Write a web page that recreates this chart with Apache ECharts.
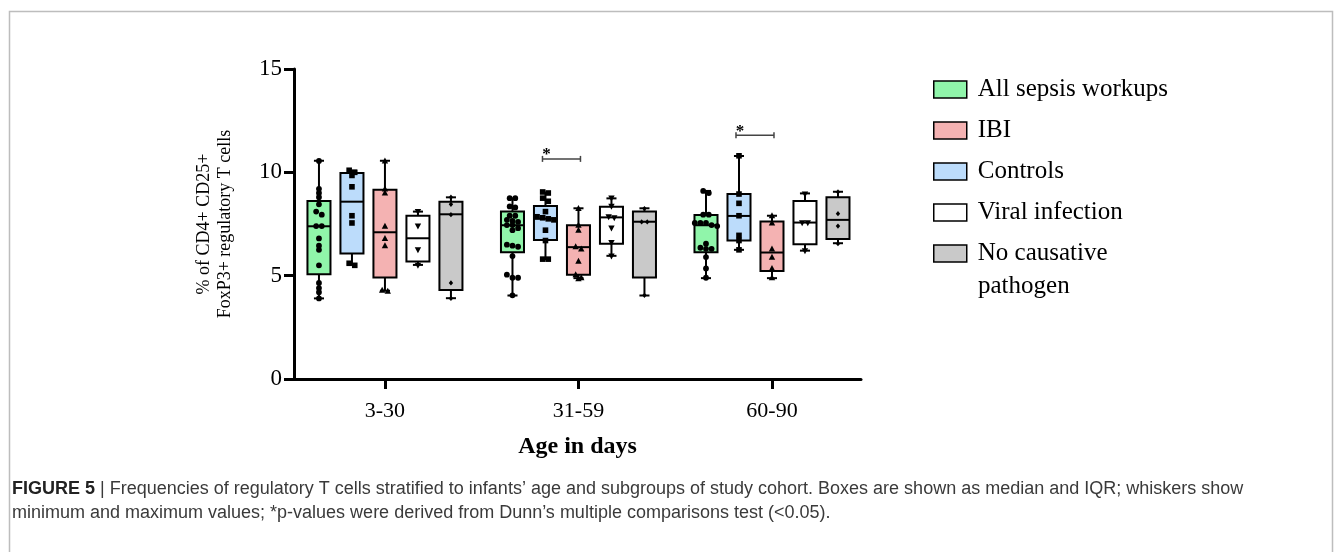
<!DOCTYPE html>
<html><head><meta charset="utf-8">
<script src="https://cdn.jsdelivr.net/npm/echarts@6/dist/echarts.min.js"></script>
<style>html,body{margin:0;padding:0;background:#fff}#c{width:1342px;height:552px}</style>
</head><body><div id="c"></div>
<script>
// ---------- data ----------
const ageGroups = ['3-30', '31-59', '60-90'];
const subgroupNames = ['All sepsis workups', 'Controls', 'IBI', 'Viral infection', 'No causative pathogen'];
const legendOrder = ['All sepsis workups', 'IBI', 'Controls', 'Viral infection', 'No causative pathogen'];
const yTicks = [0, 5, 10, 15];

// box stats per age group: [min, q1, median, q3, max]
const sepsisBox     = [[3.9, 5.07, 7.39, 8.61, 10.56], [4.04, 6.13, 7.44, 8.10, 8.74], [4.88, 6.13, 7.44, 7.94, 9.1]];
const controlsBox   = [[5.55, 6.07, 8.58, 9.97, 10.08], [5.8, 6.73, 7.76, 8.37, 9.02], [6.25, 6.7, 7.89, 8.95, 10.79]];
const ibiBox        = [[4.27, 4.91, 7.10, 9.16, 10.56], [4.88, 5.04, 6.38, 7.44, 8.26], [4.88, 5.23, 6.12, 7.62, 7.9]];
const viralBox      = [[5.52, 5.68, 6.81, 7.9, 8.1], [5.96, 6.54, 7.82, 8.34, 8.74], [6.21, 6.52, 7.57, 8.61, 8.98]];
const noPathogenBox = [[3.91, 4.31, 7.97, 8.58, 8.79], [4.04, 4.91, 7.61, 8.10, 8.26], [6.57, 6.78, 7.7, 8.79, 9.06]];

// individual values per age group
const sepsisPoints = [
  [10.55, 9.2, 9.0, 8.8, 8.45, 8.1, 7.95, 7.4, 7.4, 6.8, 6.45, 6.25, 5.5, 4.65, 4.4, 4.2, 3.9],
  [8.75, 8.75, 8.35, 8.3, 7.9, 7.9, 7.7, 7.65, 7.6, 7.45, 7.45, 7.3, 7.2, 6.5, 6.45, 6.4, 5.95, 5.05, 4.9, 4.9, 4.05],
  [9.1, 9.0, 7.95, 7.95, 7.55, 7.55, 7.55, 7.45, 7.4, 6.55, 6.35, 6.3, 6.3, 5.9, 5.35, 4.9]
];
const controlsPoints = [
  [10.1, 10.0, 9.85, 9.3, 7.9, 7.55, 5.6, 5.5],
  [9.05, 9.0, 8.75, 8.6, 8.1, 7.85, 7.8, 7.75, 7.7, 7.2, 6.7, 5.8, 5.8],
  [10.8, 8.95, 8.5, 7.9, 6.95, 6.7, 6.25]
];
const ibiPoints = [
  [10.55, 9.2, 9.0, 7.4, 6.8, 6.45, 4.3, 4.25],
  [8.25, 7.45, 7.2, 6.4, 6.3, 5.7, 5.05, 4.9, 4.85],
  [7.9, 7.55, 6.3, 5.9, 5.35, 4.9]
];
const viralPoints = [
  [8.1, 7.4, 6.25, 5.5],
  [8.75, 8.35, 7.85, 7.8, 7.3, 6.6, 5.95],
  [8.95, 7.55, 7.55, 6.2]
];
const noPathogenPoints = [
  [8.8, 8.45, 7.95, 4.65, 3.9],
  [8.25, 7.6, 7.6, 4.05],
  [9.05, 8.0, 7.4, 6.55]
];

// significance brackets: age group index, between subgroup slots, height
const sigGroups = [1, 2];
const sigFrom = [1, 1];
const sigTo = [2, 2];
const sigHeights = [10.65, 11.8];

// ---------- styling / layout ----------
const colors = ['#90f5aa', '#bcdcfb', '#f4b2b2', '#ffffff', '#c9c9c9'];
const markers = ['circle', 'square', 'triangle', 'downTriangle', 'diamond'];
const SLOT = 0.1705;   // axis units between neighbouring boxes
const BOXW = 0.119;    // box width in axis units
const CAPW = 0.052;    // whisker cap width
const SERIF = '"Liberation Serif", "Times New Roman", serif';
const SANS = '"Liberation Sans Narrow", "Liberation Sans", Arial, sans-serif';

function markerShape(type, x, y) {
  const st = { fill: '#000' };
  if (type === 'circle') return { type: 'circle', shape: { cx: x, cy: y, r: 2.9 }, style: st };
  if (type === 'square') return { type: 'rect', shape: { x: x - 2.8, y: y - 2.8, width: 5.6, height: 5.6 }, style: st };
  if (type === 'triangle') return { type: 'polygon', shape: { points: [[x, y - 3.4], [x + 3.2, y + 2.6], [x - 3.2, y + 2.6]] }, style: st };
  if (type === 'downTriangle') return { type: 'polygon', shape: { points: [[x, y + 3.4], [x + 3.2, y - 2.6], [x - 3.2, y - 2.6]] }, style: st };
  return { type: 'polygon', shape: { points: [[x, y - 2.6], [x + 2.2, y], [x, y + 2.6], [x - 2.2, y]] }, style: st };
}

// Prism-like row layout of points that share (almost) the same level
function swarm(pys, d) {
  const order = pys.map((y, i) => i).sort((a, b) => pys[a] - pys[b]);
  const xs = new Array(pys.length).fill(0);
  let row = [];
  const flush = () => {
    row.forEach((idx, j) => { xs[idx] = (j - (row.length - 1) / 2) * d; });
    row = [];
  };
  order.forEach(idx => {
    if (row.length && Math.abs(pys[idx] - pys[row[0]]) > 3.5) flush();
    row.push(idx);
  });
  flush();
  return xs;
}

function boxSeries(k, boxes, points) {
  return {
    type: 'custom',
    name: subgroupNames[k],
    itemStyle: { color: colors[k], borderColor: '#000' },
    data: boxes.map((b, i) => [i].concat(b)),
    encode: { x: 0, y: [1, 2, 3, 4, 5] },
    z: 3,
    renderItem(params, api) {
      const g = api.value(0);
      const xv = g + (k - 2) * SLOT;
      const cx = api.coord([xv, 0])[0];
      const py = v => api.coord([xv, v])[1];
      const yMin = py(api.value(1)), yQ1 = py(api.value(2)), yMed = py(api.value(3)),
            yQ3 = py(api.value(4)), yMax = py(api.value(5));
      const w = api.size([BOXW, 0])[0];
      const cw = api.size([CAPW, 0])[0];
      const ln = { stroke: '#000', lineWidth: 2 };
      const children = [
        { type: 'line', shape: { x1: cx, y1: yMax, x2: cx, y2: yQ3 }, style: ln },
        { type: 'line', shape: { x1: cx, y1: yQ1, x2: cx, y2: yMin }, style: ln },
        { type: 'line', shape: { x1: cx - cw / 2, y1: yMax, x2: cx + cw / 2, y2: yMax }, style: ln },
        { type: 'line', shape: { x1: cx - cw / 2, y1: yMin, x2: cx + cw / 2, y2: yMin }, style: ln },
        { type: 'rect', shape: { x: cx - w / 2, y: yQ3, width: w, height: yQ1 - yQ3 },
          style: { fill: colors[k], stroke: '#000', lineWidth: 2 } },
        { type: 'line', shape: { x1: cx - w / 2, y1: yMed, x2: cx + w / 2, y2: yMed }, style: ln }
      ];
      const vals = points[params.dataIndex];
      const pys = vals.map(py);
      const offs = swarm(pys, 5.6);
      pys.forEach((y, i) => children.push(markerShape(markers[k], cx + offs[i], y)));
      return { type: 'group', children };
    }
  };
}

const sigSeries = {
  type: 'custom',
  name: 'sig',
  data: sigGroups.map((g, i) => [g, sigHeights[i], sigFrom[i], sigTo[i]]),
  encode: { x: 0, y: 1 },
  z: 4,
  silent: true,
  renderItem(params, api) {
    const g = api.value(0);
    const p1 = api.coord([g + (api.value(2) - 2) * SLOT, api.value(1)]);
    const p2 = api.coord([g + (api.value(3) - 2) * SLOT, api.value(1)]);
    const xa = p1[0] - 3, xb = p2[0] + 2, y = p1[1];
    const st = { stroke: '#444', lineWidth: 1.5 };
    return { type: 'group', children: [
      { type: 'line', shape: { x1: xa, y1: y, x2: xb, y2: y }, style: st },
      { type: 'line', shape: { x1: xa, y1: y - 3, x2: xa, y2: y + 3 }, style: st },
      { type: 'line', shape: { x1: xb, y1: y - 3, x2: xb, y2: y + 3 }, style: st },
      { type: 'text', style: { text: '*', x: xa + 4, y: y - 4, align: 'center', verticalAlign: 'middle',
        font: 'bold 17px ' + SERIF, fill: '#000' } }
    ] };
  }
};

const chart = echarts.init(document.getElementById('c'), null, { renderer: 'canvas' });
chart.setOption({
  animation: false,
  backgroundColor: '#fff',
  grid: { left: 294, right: 481, top: 69, bottom: 173, containLabel: false },
  xAxis: {
    type: 'value', min: -0.47, max: 2.46,
    splitLine: { show: false },
    axisLine: { onZero: false, lineStyle: { color: '#000', width: 3 } },
    axisTick: { customValues: [0, 1, 2], length: 10, lineStyle: { color: '#000', width: 3 } },
    axisLabel: { customValues: [0, 1, 2], formatter: v => ageGroups[Math.round(v)], margin: 21,
      fontFamily: SERIF, fontSize: 22, color: '#000' },
    name: 'Age in days', nameLocation: 'middle', nameGap: 56,
    nameTextStyle: { fontFamily: SERIF, fontSize: 24, fontWeight: 'bold', color: '#000' }
  },
  yAxis: {
    type: 'value', min: yTicks[0], max: yTicks[yTicks.length - 1], interval: 5,
    splitLine: { show: false },
    axisLine: { show: true, onZero: false, lineStyle: { color: '#000', width: 3 } },
    axisTick: { show: true, length: 10, lineStyle: { color: '#000', width: 3 } },
    axisLabel: { margin: 12, fontFamily: SERIF, fontSize: 23, color: '#000' },
    name: '% of CD4+ CD25+\nFoxP3+ regulatory T cells', nameLocation: 'middle', nameGap: 58,
    nameTextStyle: { fontFamily: SERIF, fontSize: 18, lineHeight: 21, color: '#000' }
  },
  legend: {
    orient: 'vertical', left: 933, top: 77, padding: 0, itemWidth: 33, itemHeight: 17, itemGap: 16,
    icon: 'rect', selectedMode: false,
    data: legendOrder.map(n => ({ name: n, itemStyle: { borderColor: '#000', borderWidth: 1.5 } })),
    formatter: n => n === 'No causative pathogen' ? 'No causative' : n,
    textStyle: { fontFamily: SERIF, fontSize: 25, color: '#000', padding: [0, 0, 0, 6] }
  },
  title: {
    left: 12, top: 477, padding: 0,
    text: '{b|FIGURE 5} | Frequencies of regulatory T cells stratified to infants\u2019 age and subgroups of study cohort. Boxes are shown as median and IQR; whiskers show\nminimum and maximum values; *p-values were derived from Dunn\u2019s multiple comparisons test (<0.05).',
    textStyle: {
      fontFamily: SANS, fontSize: 18, fontWeight: 'normal', lineHeight: 24, color: '#3a3a3a',
      rich: { b: { fontFamily: SANS, fontSize: 18, fontWeight: 'bold', color: '#222', lineHeight: 24 } }
    }
  },
  graphic: [
    { type: 'rect', shape: { x: 9.5, y: 11.5, width: 1323, height: 600 }, style: { fill: 'none', stroke: '#bdbdbd', lineWidth: 1.5 }, silent: true },
    { type: 'text', left: 978, top: 274, style: { text: 'pathogen', font: '25px ' + SERIF, fill: '#000' } }
  ],
  series: [
    boxSeries(0, sepsisBox, sepsisPoints),
    boxSeries(1, controlsBox, controlsPoints),
    boxSeries(2, ibiBox, ibiPoints),
    boxSeries(3, viralBox, viralPoints),
    boxSeries(4, noPathogenBox, noPathogenPoints),
    sigSeries
  ]
});
</script></body></html>
